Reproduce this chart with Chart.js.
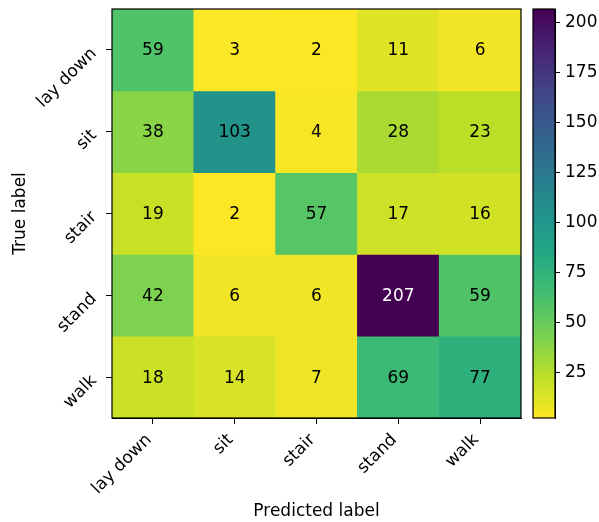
<!DOCTYPE html>
<html>
<head>
<meta charset="utf-8">
<script src="https://cdn.jsdelivr.net/npm/chart.js@4/dist/chart.umd.min.js"></script>
<style>
  html, body { margin: 0; padding: 0; background: #fff; }
  #wrap { position: relative; width: 599px; height: 522px; }
  #main { position: absolute; left: 0; top: 0; }
  #cbar { position: absolute; left: 521px; top: 0; }
</style>
</head>
<body>
<div id="wrap">
  <canvas id="main" width="599" height="522"></canvas>
  <canvas id="cbar" width="78" height="522"></canvas>
</div>
<script>
// ---- data ----
const categories = ['lay down', 'sit', 'stair', 'stand', 'walk'];
const trueLayDown = [59, 3, 2, 11, 6];
const trueSit = [38, 103, 4, 28, 23];
const trueStair = [19, 2, 57, 17, 16];
const trueStand = [42, 6, 6, 207, 59];
const trueWalk = [18, 14, 7, 69, 77];
const rows = [trueLayDown, trueSit, trueStair, trueStand, trueWalk];
const cbTicks = [25, 50, 75, 100, 125, 150, 175, 200];
const xTitle = 'Predicted label';
const yTitle = 'True label';

const allVals = rows.flat();
const vmin = Math.min(...allVals);
const vmax = Math.max(...allVals);

// viridis colormap stops
const viridis = ['#440154', '#482475', '#414487', '#355f8d', '#2a788e', '#21918c',
                 '#22a884', '#44bf70', '#7ad151', '#bddf26', '#fde725'];
function hex2rgb(h) { return [1, 3, 5].map(i => parseInt(h.substr(i, 2), 16)); }
function viridisAt(t) {
  t = Math.max(0, Math.min(1, t));
  const p = t * (viridis.length - 1);
  const i = Math.min(Math.floor(p), viridis.length - 2);
  const f = p - i;
  const a = hex2rgb(viridis[i]), b = hex2rgb(viridis[i + 1]);
  const c = a.map((v, k) => Math.round(v + (b[k] - v) * f));
  return `rgb(${c[0]},${c[1]},${c[2]})`;
}
// reversed viridis (low = yellow, high = purple)
function cmap(v) { return viridisAt(1 - (v - vmin) / (vmax - vmin)); }

Chart.defaults.font.family = "'DejaVu Sans', sans-serif";
Chart.defaults.font.size = 17;
Chart.defaults.color = '#000';
Chart.defaults.animation = false;

function noPad(s) { s.paddingTop = 0; s.paddingBottom = 0; s.paddingLeft = 0; s.paddingRight = 0; }

const borderPlugin = {
  id: 'frame',
  afterDraw(chart) {
    const { ctx, chartArea: a } = chart;
    ctx.save();
    ctx.strokeStyle = '#000';
    ctx.lineWidth = 1.2;
    ctx.strokeRect(a.left, a.top, a.right - a.left, a.bottom - a.top);
    ctx.restore();
  }
};

const cellTextPlugin = {
  id: 'cellText',
  afterDatasetsDraw(chart) {
    const { ctx } = chart;
    ctx.save();
    ctx.font = "17px 'DejaVu Sans', sans-serif";
    ctx.textAlign = 'center';
    ctx.textBaseline = 'middle';
    chart.data.datasets.forEach((ds, di) => {
      const meta = chart.getDatasetMeta(di);
      meta.data.forEach((el, ci) => {
        const v = rows[di][ci];
        ctx.fillStyle = v > vmax / 2 ? '#fff' : '#000';
        ctx.fillText(String(v), el.x, (el.y + el.base) / 2 + 1);
      });
    });
    ctx.restore();
  }
};

const datasets = rows.map((row, r) => ({
  label: categories[r],
  data: row.map(() => [r - 0.5, r + 0.5]),
  backgroundColor: row.map(v => cmap(v)),
  borderWidth: 0,
  barPercentage: 1,
  categoryPercentage: 1,
  grouped: false
}));

new Chart(document.getElementById('main'), {
  type: 'bar',
  data: { labels: categories, datasets },
  options: {
    responsive: false,
    layout: { padding: { left: 0, right: 78, top: 9, bottom: 0 } },
    plugins: { legend: { display: false }, tooltip: { enabled: false } },
    scales: {
      x: {
        type: 'category',
        grid: { display: true, drawOnChartArea: false, drawTicks: true, tickLength: 6, color: '#000', offset: false },
        border: { display: true, color: '#000' },
        ticks: { minRotation: 45, maxRotation: 45, padding: 6, labelOffset: -4, autoSkip: false },
        title: { display: true, text: xTitle, padding: { top: 4, bottom: 0 } },
        afterFit(s) { s.height = 104; noPad(s); }
      },
      y: {
        type: 'linear',
        min: -0.5, max: 4.5, reverse: true,
        grid: { display: true, drawOnChartArea: false, drawTicks: true, tickLength: 6, color: '#000' },
        border: { display: true, color: '#000' },
        afterBuildTicks(s) { s.ticks = categories.map((c, i) => ({ value: i })); },
        ticks: { minRotation: 45, maxRotation: 45, padding: 12, labelOffset: 1, callback: v => categories[v] },
        title: { display: true, text: yTitle, padding: { top: 10, bottom: 4 } },
        afterFit(s) { s.width = 112; noPad(s); }
      }
    }
  },
  plugins: [cellTextPlugin, borderPlugin]
});

// ---- colorbar ----
new Chart(document.getElementById('cbar'), {
  type: 'bar',
  data: {
    labels: [''],
    datasets: [{
      data: [[vmin, vmax]],
      borderWidth: 0,
      barPercentage: 1,
      categoryPercentage: 1,
      backgroundColor(ctx) {
        const chart = ctx.chart;
        if (!chart.chartArea) return '#ccc';
        const ys = chart.scales.y;
        const y0 = ys.getPixelForValue(vmin), y1 = ys.getPixelForValue(vmax);
        const g = chart.ctx.createLinearGradient(0, y0, 0, y1);
        for (let i = 0; i <= 40; i++) {
          const t = i / 40;
          g.addColorStop(t, cmap(vmin + t * (vmax - vmin)));
        }
        return g;
      }
    }]
  },
  options: {
    responsive: false,
    layout: { padding: { left: 12, right: 0, top: 9, bottom: 104 } },
    plugins: { legend: { display: false }, tooltip: { enabled: false } },
    scales: {
      x: { display: false },
      y: {
        type: 'linear', position: 'right',
        min: vmin, max: vmax,
        grid: { display: true, drawOnChartArea: false, drawTicks: true, tickLength: 5, color: '#000' },
        border: { display: true, color: '#000' },
        afterBuildTicks(s) { s.ticks = cbTicks.map(v => ({ value: v })); },
        ticks: { padding: 5 },
        afterFit(s) { s.width = 44; noPad(s); }
      }
    }
  },
  plugins: [borderPlugin]
});
</script>
</body>
</html>
